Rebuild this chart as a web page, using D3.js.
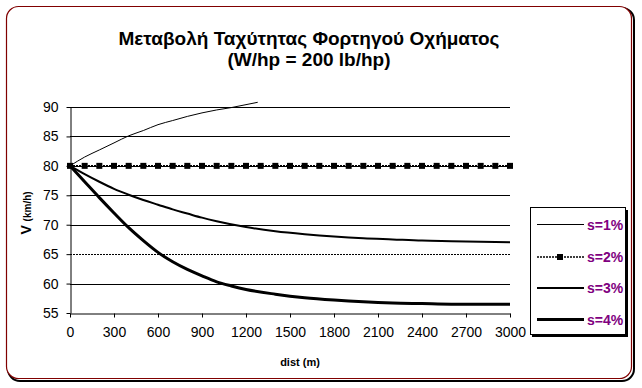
<!DOCTYPE html>
<html>
<head>
<meta charset="utf-8">
<script src="https://cdn.jsdelivr.net/npm/d3@7"></script>
<style>
  body { margin: 0; background: #fff; }
  svg text { font-family: Arial, "Liberation Sans", sans-serif; }
</style>
</head>
<body>
<svg id="chart" width="642" height="388"></svg>
<script>
// distances (m) and speeds (km/h)
var dist1 = [0, 100, 200, 300, 400, 500, 600, 700, 800, 900, 1000, 1100, 1200, 1280];
var s1 = [80, 81.5, 82.7, 83.9, 85.1, 86.0, 87.0, 87.7, 88.4, 89.0, 89.5, 89.9, 90.4, 90.8];

var dist2 = d3.range(0, 3001, 100);
var s2 = dist2.map(function() { return 80; });

var dist3 = [0, 100, 200, 300, 400, 500, 600, 700, 800, 900, 1000, 1200, 1400, 1600, 1800, 2000, 2200, 2400, 2600, 2800, 3000];
var s3 = [80, 78.6, 77.3, 76.1, 75.1, 74.2, 73.4, 72.6, 71.9, 71.2, 70.6, 69.6, 68.9, 68.4, 68.0, 67.7, 67.5, 67.3, 67.2, 67.1, 67.0];

var dist4 = [0, 100, 200, 300, 400, 500, 600, 700, 800, 900, 1000, 1100, 1200, 1400, 1600, 1800, 2000, 2200, 2400, 2600, 2800, 3000];
var s4 = [80, 77.3, 74.6, 72.0, 69.5, 67.3, 65.3, 63.7, 62.4, 61.3, 60.3, 59.6, 59.0, 58.2, 57.6, 57.2, 56.9, 56.7, 56.6, 56.5, 56.5, 56.5];

var xTicks = d3.range(0, 3001, 300);
var yTicks = [55, 60, 65, 70, 75, 80, 85, 90];
var legendLabels = ["s=1%", "s=2%", "s=3%", "s=4%"];

var svg = d3.select("#chart");

// outer frame with shadow
svg.append("rect")
    .attr("x", 8).attr("y", 8).attr("width", 626).attr("height", 373)
    .attr("rx", 12).attr("ry", 12)
    .attr("fill", "none").attr("stroke", "#000").attr("stroke-width", 2);
svg.append("rect")
    .attr("x", 6.5).attr("y", 6.5).attr("width", 625).attr("height", 372)
    .attr("rx", 12).attr("ry", 12)
    .attr("fill", "#fff").attr("stroke", "#800000").attr("stroke-width", 1.2);

// title
svg.append("text")
    .attr("x", 309).attr("y", 45)
    .attr("text-anchor", "middle")
    .attr("font-size", 19).attr("font-weight", "bold")
    .text("Μεταβολή Ταχύτητας Φορτηγού Οχήματος");
svg.append("text")
    .attr("x", 309).attr("y", 66)
    .attr("text-anchor", "middle")
    .attr("font-size", 19).attr("font-weight", "bold")
    .text("(W/hp = 200 lb/hp)");

var x = d3.scaleLinear().domain([0, 3000]).range([70, 510]);
var y = d3.scaleLinear().domain([55, 90]).range([313, 107]);

// gridlines
svg.append("g")
    .selectAll("line")
    .data(yTicks.filter(function(d) { return d > 55; }))
    .enter()
    .append("line")
        .attr("x1", x(0)).attr("x2", x(3000))
        .attr("y1", function(d) { return Math.round(y(d)) + 0.5; })
        .attr("y2", function(d) { return Math.round(y(d)) + 0.5; })
        .attr("stroke", "#000")
        .attr("stroke-width", 1)
        .attr("stroke-dasharray", function(d) { return d == 65 ? "2,1" : null; });

// axes
var xAxis = svg.append("g")
    .attr("transform", "translate(0," + (Math.round(y(55)) + 0.5) + ")")
    .call(d3.axisBottom(x).tickValues(xTicks).tickFormat(d3.format("d"))
        .tickSize(4).tickSizeOuter(0).tickPadding(10));
var yAxis = svg.append("g")
    .attr("transform", "translate(" + (x(0) + 0.5) + ",0)")
    .call(d3.axisLeft(y).tickValues(yTicks).tickSize(4).tickSizeOuter(0).tickPadding(8));

[xAxis, yAxis].forEach(function(a) {
    a.select(".domain").attr("stroke", "#000");
    a.selectAll("line").attr("stroke", "#000");
    a.selectAll("text")
        .attr("font-family", "Arial, 'Liberation Sans', sans-serif")
        .attr("font-size", 14)
        .attr("fill", "#000");
});

// axis titles
svg.append("text")
    .attr("x", 300).attr("y", 366)
    .attr("text-anchor", "middle")
    .attr("font-size", 11).attr("font-weight", "bold")
    .text("dist (m)");
var yTitle = svg.append("text")
    .attr("transform", "translate(31,213) rotate(-90)")
    .attr("text-anchor", "middle")
    .attr("font-weight", "bold");
yTitle.append("tspan").attr("font-size", 14).text("V ");
yTitle.append("tspan").attr("font-size", 10).text("(km/h)");

var line = d3.line()
    .x(function(d) { return x(d[0]); })
    .y(function(d) { return y(d[1]); })
    .curve(d3.curveMonotoneX);

function zipData(xs, ys) { return xs.map(function(d, i) { return [d, ys[i]]; }); }

// s=2%
svg.append("path")
    .datum(zipData(dist2, s2))
    .attr("d", line)
    .attr("fill", "none").attr("stroke", "#000")
    .attr("stroke-width", 1.5).attr("stroke-dasharray", "2,1");
svg.append("g")
    .selectAll("rect")
    .data(zipData(dist2, s2))
    .enter()
    .append("rect")
        .attr("x", function(d) { return x(d[0]) - 3; })
        .attr("y", function(d) { return y(d[1]) - 3; })
        .attr("width", 6).attr("height", 6)
        .attr("fill", "#000");

// s=1%, s=3%, s=4%
var series = [
    { xs: dist1, ys: s1, w: 1 },
    { xs: dist3, ys: s3, w: 2 },
    { xs: dist4, ys: s4, w: 3 }
];
series.forEach(function(s) {
    svg.append("path")
        .datum(zipData(s.xs, s.ys))
        .attr("d", line)
        .attr("fill", "none").attr("stroke", "#000")
        .attr("stroke-width", s.w);
});

// legend
var lg = svg.append("g");
lg.append("rect").attr("x", 532).attr("y", 210).attr("width", 96).attr("height", 127).attr("fill", "#000");
lg.append("rect").attr("x", 530.5).attr("y", 207.5).attr("width", 95).attr("height", 127)
    .attr("fill", "#fff").attr("stroke", "#000");
var legendY = [224.5, 257, 288, 319.5];
var legendW = [1, 1.5, 2, 3];
legendLabels.forEach(function(lab, i) {
    lg.append("line")
        .attr("x1", 537).attr("x2", 584)
        .attr("y1", legendY[i]).attr("y2", legendY[i])
        .attr("stroke", "#000").attr("stroke-width", legendW[i])
        .attr("stroke-dasharray", i == 1 ? "2,1" : null);
    if (i == 1) {
        lg.append("rect").attr("x", 557).attr("y", legendY[i] - 3).attr("width", 6).attr("height", 6).attr("fill", "#000");
    }
    lg.append("text")
        .attr("x", 587).attr("y", legendY[i] + 5)
        .attr("font-size", 14).attr("font-weight", "bold")
        .attr("fill", "#800080")
        .text(lab);
});
</script>
</body>
</html>
